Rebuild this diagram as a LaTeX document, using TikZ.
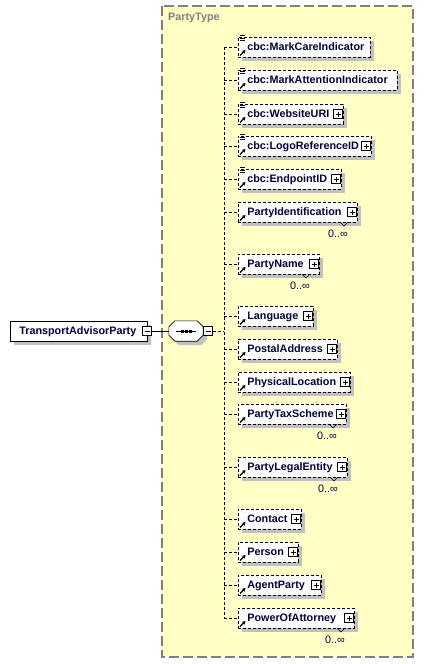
\documentclass[tikz,border=0pt]{standalone}
\usepackage{fontspec}
\setsansfont{Liberation Sans}
\usetikzlibrary{shadows,arrows.meta}

\definecolor{typefill}{RGB}{255,255,198}
\definecolor{typeline}{RGB}{128,128,128}
\definecolor{shadowgray}{RGB}{192,192,192}
\definecolor{xsdtext}{RGB}{0,0,64}

\tikzset{
	xsdfont/.style = {font = \sffamily\bfseries\fontsize{10.8}{12}\selectfont},
	shaded/.style = {drop shadow = {shadow xshift = 4pt, shadow yshift = -4pt, fill = shadowgray, opacity = 1}},
	conn/.style = {line width = 0.6pt, dash pattern = on 3pt off 2pt},
	rootbox/.style = {draw, line width = 0.6pt, fill = white, shaded, anchor = west, minimum height = 20pt, inner xsep = 9pt, inner ysep = 0pt, align = left, text = xsdtext, xsdfont, text height = 8pt, text depth = 2pt},
	elembox/.style = {rootbox, dash pattern = on 3pt off 2pt},
	seqbox/.style = {minimum width = 34pt, minimum height = 20pt, inner sep = 0pt},
	seqline/.style = {draw, line width = 0.6pt, fill = white, shaded},
	minusbox/.style = {draw, fill = white, minimum size = 9pt, inner sep = 0pt, line width = 0.6pt,
		path picture = {\draw[line width = 0.6pt] ([xshift = -2.5pt]path picture bounding box.center) -- ([xshift = 2.5pt]path picture bounding box.center);}},
	plusbox/.style = {draw, fill = white, minimum size = 9pt, inner sep = 0pt, line width = 0.6pt,
		path picture = {\draw[line width = 0.6pt] ([xshift = -2.5pt]path picture bounding box.center) -- ([xshift = 2.5pt]path picture bounding box.center)
			([yshift = -2.5pt]path picture bounding box.center) -- ([yshift = 2.5pt]path picture bounding box.center);}},
	refarrow/.style = {-{Stealth[length = 3.5pt, width = 4pt]}, line width = 1.2pt},
	multlabel/.style = {font = \sffamily\fontsize{10.8}{12}\selectfont, text = xsdtext, inner sep = 0pt},
}

\begin{document}
\begin{tikzpicture}[x = 1pt, y = -1pt]
	\useasboundingbox (0,0) rectangle (426,664);
	
	\draw[fill = typefill, draw = typeline, line width = 1.2pt, dash pattern = on 10pt off 4pt] (162,6) rectangle (413,657);
	\node[xsdfont, text = typeline, anchor = west, inner sep = 0pt] (typename) at (168,18) {PartyType};
	
	\node[rootbox, text width = 119pt] (root) at (10,331) {TransportAdvisorParty};
	\node[minusbox] (rootm) at ([xshift = -0.5pt]root.east) {};
	
	\node[seqbox] (seq) at (186,331) {};
	\draw[seqline] ([xshift = 6pt]seq.north west) -- ([xshift = -6pt]seq.north east) -- ([yshift = -6pt]seq.north east)
		-- ([yshift = 6pt]seq.south east) -- ([xshift = -6pt]seq.south east) -- ([xshift = 6pt]seq.south west)
		-- ([yshift = 6pt]seq.south west) -- ([yshift = -6pt]seq.north west) -- cycle;
	\draw[line width = 0.6pt] ([xshift = -10pt]seq.center) -- ([xshift = 10pt]seq.center);
	\foreach \dx in {-4,0,4}
		\fill ([xshift = \dx pt]seq.center) +(-1.5,-1.5) rectangle +(1.5,1.5);
	\node[minusbox, anchor = west] (seqm) at (seq.east) {};
	\draw[line width = 0.6pt] (rootm) -- (seq);
	
	\coordinate (sp) at (224,331);
	\draw[conn] (seqm) -- (sp);
	
	\foreach \y/\r/\t/\p/\m [count = \i, evaluate = \r as \w using \r - 256] in {
		47/370/cbc:MarkCareIndicator/0/0,
		80/397/cbc:MarkAttentionIndicator/0/0,
		114/343/cbc:WebsiteURI/1/0,
		146/371/cbc:LogoReferenceID/1/0,
		179/341/cbc:EndpointID/1/0,
		212/357/PartyIdentification/1/1,
		264/319/PartyName/1/1,
		316/313/Language/1/0,
		349/337/PostalAddress/1/0,
		382/350/PhysicalLocation/1/0,
		414/346/PartyTaxScheme/1/1,
		467/347/PartyLegalEntity/1/1,
		519/301/Contact/1/0,
		552/298/Person/1/0,
		585/321/AgentParty/1/0,
		618/354/PowerOfAttorney/1/1}
	{
		\node[elembox, text width = \w pt] (e\i) at (238,\y) {\t};
		\draw[conn] (e\i.west -| sp) -- (e\i.west);
		\draw[refarrow] (240,\y + 8.5) -- (245.5,\y + 3);
		\ifnum\i<6
			\foreach \dy in {-11.5,-9,-6.5}
				\draw[line width = 0.7pt] (240,\y + \dy) -- (245,\y + \dy);
		\fi
		\ifnum\p=1
			\node[plusbox] (e\i p) at (\r - 5,\y) {};
		\fi
		\ifnum\m=1
			\draw[line width = 0.6pt] (\r - 17,\y + 10) -- (\r - 13,\y + 14) -- (\r - 9,\y + 10);
			\node[multlabel] (e\i m) at (\r - 19,\y + 22) {0..∞};
		\fi
	}
	\draw[conn] (e1.west -| sp) -- (e16.west -| sp);
\end{tikzpicture}
\end{document}
